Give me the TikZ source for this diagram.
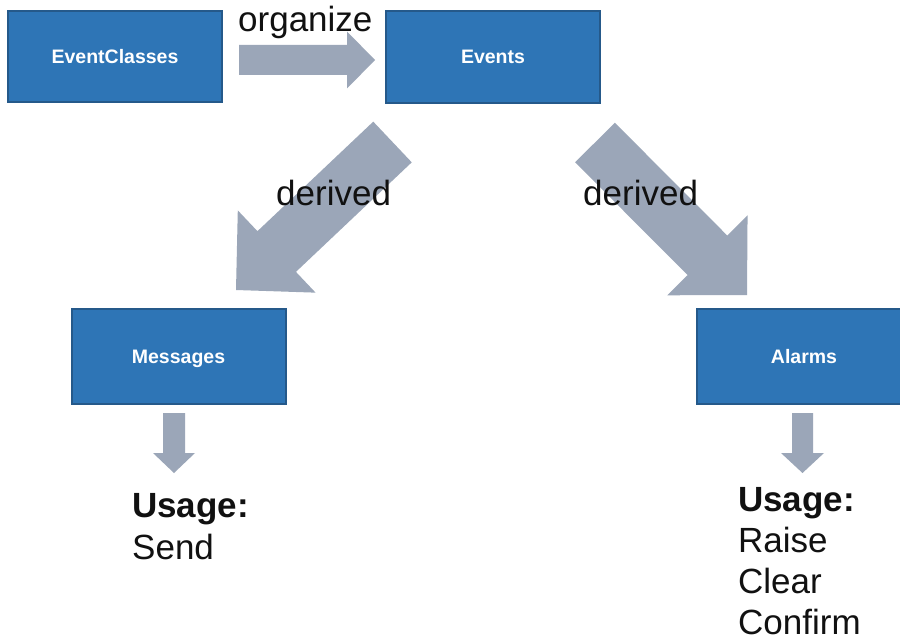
\documentclass[tikz,border=0pt]{standalone}
\usepackage{fontspec}
\setmainfont{Liberation Sans}
\usetikzlibrary{calc}
\definecolor{boxblue}{HTML}{2E75B6}
\definecolor{boxedge}{HTML}{25598A}
\definecolor{arrowgray}{HTML}{9BA6B8}
\definecolor{labeltext}{HTML}{111111}
\newcommand\blockarr[5]{%
  \coordinate (H) at ($(#2)!#5!(#1)$);
  \fill[arrowgray] ($(#1)!#3!90:(#2)$) -- ($(H)!#3!90:(#2)$) -- ($(H)!#4!90:(#2)$)
    -- (#2) -- ($(H)!#4!-90:(#2)$) -- ($(H)!#3!-90:(#2)$) -- ($(#1)!#3!-90:(#2)$) -- cycle;
}
\tikzset{
  bluebox/.style={rectangle, fill=boxblue, draw=boxedge, line width=2pt,
    minimum width=214pt, inner sep=0pt, text=white, text height=14pt, text depth=0pt,
    font=\fontsize{19.5}{22}\selectfont\bfseries},
  lbl/.style={anchor=base west, inner sep=0pt, text=labeltext,
    font=\fontsize{35}{42}\selectfont},
  lblbold/.style={lbl, font=\fontsize{35}{42}\selectfont\bfseries}
}
\begin{document}
\begin{tikzpicture}[x=1pt,y=-1pt]
\useasboundingbox (0,0) rectangle (900,642);
\clip (0,0) rectangle (900,642);
\fill[white] (0,0) rectangle (900,642);
% boxes
\node[bluebox, minimum height=91pt] (ec) at (115,56.5) {EventClasses};
\node[bluebox, minimum height=91pt] (ev) at (493,57) {Events};
\node[bluebox, minimum height=95pt] (msg) at (178.5,356) {Messages};
\node[bluebox, minimum height=95pt] (alm) at (804,356) {Alarms};
% connector end points
\coordinate (orgT) at (239,60);
\coordinate (orgH) at (375,60);
\coordinate (dlT) at (392.5,142);
\coordinate (dlH) at (236,290);
\coordinate (drT) at (595,142.5);
\coordinate (drH) at (747,295);
\coordinate (muT) at (174,413);
\coordinate (muH) at (174,473);
\coordinate (auT) at (802.5,413);
\coordinate (auH) at (802.5,473);
% block arrows
\blockarr{orgT}{orgH}{15pt}{28.5pt}{28pt}
\blockarr{dlT}{dlH}{28pt}{56.6pt}{56pt}
\blockarr{drT}{drH}{28pt}{56.6pt}{56pt}
\blockarr{muT}{muH}{11pt}{21pt}{20pt}
\blockarr{auT}{auH}{10.5pt}{21.5pt}{20pt}
% labels
\node[lbl] (lorg) at (238,32) {organize};
\node[lbl] (ldl) at (276,205) {derived};
\node[lbl] (ldr) at (583,205) {derived};
\node[lblbold] (mu) at (132,517) {Usage:};
\node[lbl] (ms) at (132,559) {Send};
\node[lblbold] (au) at (738,511) {Usage:};
\node[lbl] (ar) at (738,552) {Raise};
\node[lbl] (ac) at (738,593) {Clear};
\node[lbl] (acf) at (738,634) {Confirm};
\end{tikzpicture}
\end{document}
